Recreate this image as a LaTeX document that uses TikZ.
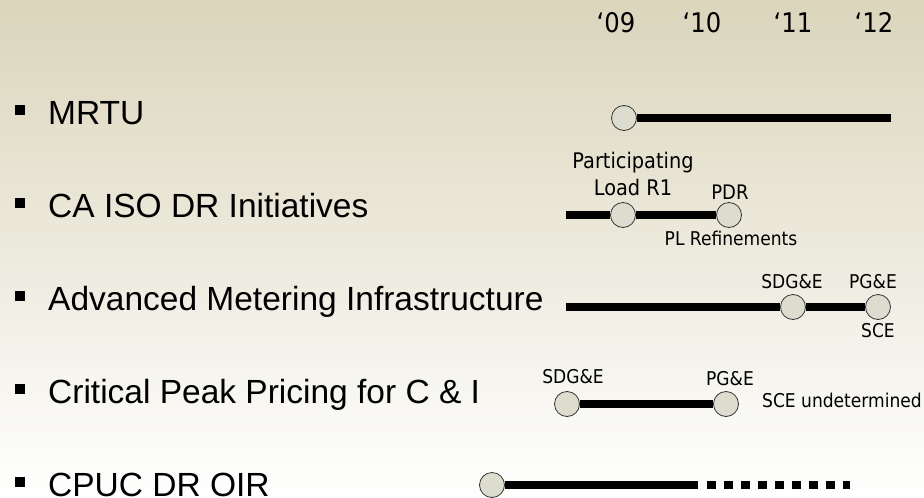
\documentclass[tikz,border=0pt]{standalone}
\usepackage{fontspec}
\setmainfont{Liberation Sans}
\newfontfamily\lblfont{DejaVu Sans Condensed}
\usetikzlibrary{positioning}
\definecolor{bgtop}{HTML}{DAD5BB}
\definecolor{dotfill}{HTML}{DCDCCF}

\begin{document}
\begin{tikzpicture}[x=1pt,y=-1pt,
  item/.style={anchor=base west,inner sep=0pt,font=\fontsize{33.5}{40}\selectfont},
  bul/.style={fill=black,minimum size=9.5pt,inner sep=0pt},
  yr/.style={anchor=base,inner sep=0pt,font=\lblfont\fontsize{27}{32}\selectfont},
  lbl/.style={anchor=base,inner sep=0pt,font=\lblfont\fontsize{19}{23}\selectfont},
  big/.style={font=\lblfont\fontsize{21.5}{26}\selectfont},
  ms/.style={circle,draw=black!80,fill=dotfill,line width=0.8pt,minimum size=25pt,inner sep=0pt},
  bar/.style={line width=8.5pt}]
 % background
 \shade[top color=bgtop,bottom color=white] (0,0) rectangle (924,498);
 \useasboundingbox (0,0) rectangle (924,498);

 % years
 \node[yr] (y09) at (616,32) {‘09};
 \node[yr] (y10) at (702,32) {‘10};
 \node[yr] (y11) at (793,32) {‘11};
 \node[yr] (y12) at (874,32) {‘12};

 % bullet items
 \node[bul] (b1) at (20,110) {};
 \node[bul] (b2) at (20,203) {};
 \node[bul] (b3) at (20,296) {};
 \node[bul] (b4) at (20,389) {};
 \node[bul] (b5) at (20,482) {};
 \node[item] (mrtu) at (48,124) {MRTU};
 \node[item] (caiso) at (48,217) {CA ISO DR Initiatives};
 \node[item] (ami) at (48,310) {Advanced Metering Infrastructure};
 \node[item] (cpp) at (48,403) {Critical Peak Pricing for C \& I};
 \node[item] (oir) at (48,496) {CPUC DR OIR};

 % MRTU
 \node[ms] (m0) at (624,118) {};
 \coordinate (m1) at (891,118);
 \draw[bar] (m0) -- (m1);

 % CA ISO
 \coordinate (c0) at (566,215);
 \node[ms] (c1) at (623,215) {};
 \node[ms] (c2) at (729,215) {};
 \draw[bar] (c0) -- (c1) -- (c2);
 \node[lbl,big] (pl1) at (633,168) {Participating};
 \node[lbl,big] (pl2) at (633,195) {Load R1};
 \node[lbl,font=\lblfont\fontsize{20}{24}\selectfont] (pdr) at (730,199) {PDR};
 \node[lbl] (plr) at (731,245) {PL Refinements};

 % AMI
 \coordinate (a0) at (566,307);
 \node[ms] (a1) at (793,307) {};
 \node[ms] (a2) at (878,307) {};
 \draw[bar] (a0) -- (a1) -- (a2);
 \node[lbl] (as) at (792,288) {SDG\&E};
 \node[lbl] (ap) at (873,288) {PG\&E};
 \node[lbl] (ac) at (878,337) {SCE};

 % CPP
 \node[ms] (p1) at (567,404) {};
 \node[ms] (p2) at (726,404) {};
 \draw[bar] (p1) -- (p2);
 \node[lbl] (ps) at (573,383) {SDG\&E};
 \node[lbl] (pp) at (730,385) {PG\&E};
 \node[lbl,anchor=base west] (pc) at (762,407) {SCE undetermined};

 % OIR
 \node[ms] (o0) at (492,485) {};
 \coordinate (o1) at (698,485);
 \coordinate (o2) at (707,485);
 \coordinate (o3) at (850,485);
 \draw[bar] (o0) -- (o1);
 \draw[bar,dash pattern=on 8.5pt off 8.5pt] (o2) -- (o3);
\end{tikzpicture}
\end{document}
